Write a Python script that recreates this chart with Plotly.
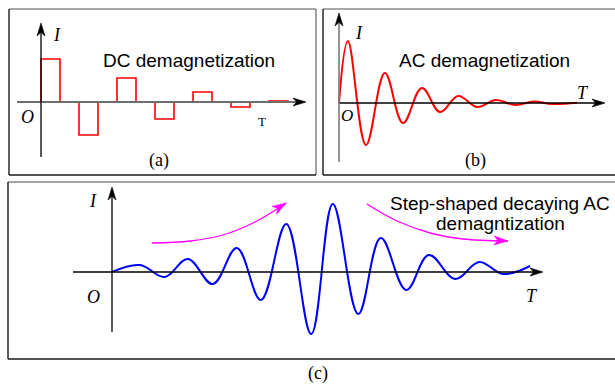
import math
import plotly.graph_objects as go

W, H = 615, 384

# ---------------- data ----------------
# (a) DC demagnetization: step index and pulse height (a.u.)
dc_step = [0, 1, 2, 3, 4, 5, 6]
dc_current = [4.3, -3.3, 2.4, -1.7, 1.0, -0.5, 0.1]

# (b) AC demagnetization: time (periods) and current (a.u.) at start / extrema / end
ac_time = [0, 0.24, 0.73, 1.24, 1.73, 2.24, 2.73, 3.22, 3.73, 4.24, 4.76, 5.27, 5.76, 6.43]
ac_current = [0, 6.2, -4.2, 3.0, -2.0, 1.5, -0.9, 0.7, -0.4, 0.3, -0.2, 0.15, -0.1, 0.03]

# (c) Step-shaped decaying AC demagnetization: time (periods) and current (a.u.)
st_time = [0, 0.58, 1.10, 1.58, 2.10, 2.60, 3.10, 3.63, 4.15, 4.60, 5.13, 5.60,
           6.13, 6.60, 7.15, 7.65, 8.15, 8.71]
st_current = [0, 0.7, -0.5, 1.3, -1.2, 2.4, -2.8, 4.8, -6.2, 6.8, -4.2, 3.4,
              -1.8, 1.7, -0.7, 1.0, -0.2, 0.6]

# (c) trend arrows (rising then falling envelope)
rise_time = [0.83, 1.63, 2.31, 2.98, 3.63]
rise_level = [2.9, 3.1, 3.7, 5.0, 6.9]
fall_time = [5.31, 5.94, 6.63, 7.31, 8.25]
fall_level = [6.8, 5.1, 3.9, 3.3, 3.1]

# ---------------- geometry (pixels) ----------------
PANELS = {
    "a": dict(dom=(9, 9, 316, 175), origin=(41, 102), sx=38.0, sy=10.0),
    "b": dict(dom=(323, 9, 615, 175), origin=(339, 103), sx=37.0, sy=10.0),
    "c": dict(dom=(8, 182, 615, 359), origin=(112, 272), sx=48.0, sy=10.0),
}
AX_ID = {"a": ("x", "y"), "b": ("x2", "y2"), "c": ("x3", "y3")}

SERIF = "Liberation Serif"
SANS = "Liberation Sans"
RED = "#ff0000"
BLUE = "#0000ff"
MAGENTA = "#ff00ff"


def px(x):
    return x / W


def py(y):
    return 1 - y / H


def to_pix(panel, t, v):
    p = PANELS[panel]
    ox, oy = p["origin"]
    return ox + t * p["sx"], oy - v * p["sy"]


fig = go.Figure()

# (a) outlined pulses
fig.add_trace(go.Bar(
    x=[s + 0.25 for s in dc_step], y=dc_current, width=0.5, base=0,
    marker=dict(color="rgba(0,0,0,0)", line=dict(color=RED, width=1.6)),
    xaxis="x", yaxis="y", showlegend=False, hoverinfo="skip"))

# (b) damped oscillation
fig.add_trace(go.Scatter(
    x=ac_time, y=ac_current, mode="lines",
    line=dict(color=RED, width=2, shape="spline", smoothing=1.1),
    xaxis="x2", yaxis="y2", showlegend=False, hoverinfo="skip"))

# (c) step-shaped oscillation
fig.add_trace(go.Scatter(
    x=st_time, y=st_current, mode="lines",
    line=dict(color=BLUE, width=2, shape="spline", smoothing=1.1),
    xaxis="x3", yaxis="y3", showlegend=False, hoverinfo="skip"))

# (c) trend arrows
for tt, ll in ((rise_time, rise_level), (fall_time, fall_level)):
    fig.add_trace(go.Scatter(
        x=tt, y=ll, mode="lines",
        line=dict(color=MAGENTA, width=1.3, shape="spline", smoothing=1.0),
        xaxis="x3", yaxis="y3", showlegend=False, hoverinfo="skip"))

layout_axes = {}
for k, p in PANELS.items():
    x0, y0, x1, y1 = p["dom"]
    ox, oy = p["origin"]
    xa, ya = AX_ID[k]
    xname = "xaxis" if xa == "x" else "xaxis" + xa[1:]
    yname = "yaxis" if ya == "y" else "yaxis" + ya[1:]
    layout_axes[xname] = dict(domain=[px(x0), px(x1)],
                              range=[(x0 - ox) / p["sx"], (x1 - ox) / p["sx"]],
                              visible=False, fixedrange=True, anchor=ya)
    layout_axes[yname] = dict(domain=[py(y1), py(y0)],
                              range=[(oy - y1) / p["sy"], (oy - y0) / p["sy"]],
                              visible=False, fixedrange=True, anchor=xa)

shapes = []


def line(xa, ya, xb, yb, color, width, layer="above"):
    shapes.append(dict(type="line", xref="paper", yref="paper",
                       x0=px(xa), y0=py(ya), x1=px(xb), y1=py(yb),
                       line=dict(color=color, width=width), layer=layer))


def head(tx, ty, ang, L, Wd, color, notch=0.28):
    a = math.radians(ang)
    ux, uy = math.cos(a), math.sin(a)
    nx, ny = -uy, ux
    pts = [(0, 0),
           (-L * ux + Wd / 2 * nx, -L * uy + Wd / 2 * ny),
           (-(1 - notch) * L * ux, -(1 - notch) * L * uy),
           (-L * ux - Wd / 2 * nx, -L * uy - Wd / 2 * ny)]
    path = "M " + " L ".join(f"{x:.2f},{y:.2f}" for x, y in pts) + " Z"
    shapes.append(dict(type="path", xref="paper", yref="paper",
                       xsizemode="pixel", ysizemode="pixel",
                       xanchor=px(tx), yanchor=py(ty), path=path,
                       fillcolor=color, line=dict(color=color, width=0.6),
                       layer="above"))


# frames: top/right grey, left/bottom black
FR_G = "#8a8a8a"
FR_K = "#1a1a1a"
frames = [(9, 9, 316, 175), (323, 9, 640, 175), (8, 182, 640, 359)]
for (l, t, r, b) in frames:
    line(l, t, min(r, W), t, FR_G, 1.6)
    if r <= W:
        line(r, t, r, b, FR_G, 1.6)
    line(l, t, l, b, FR_K, 1.4)
    line(l, b, min(r, W), b, FR_K, 1.6)

# axes with arrowheads
line(17, 102, 300, 102, "#6e6e6e", 2.0)
head(306, 102, 0, 13, 8, "#000000")
line(41, 157, 41, 30, "#000000", 1.3)
head(41, 23, 90, 13, 8, "#000000")

line(339, 103, 598, 103, "#000000", 1.3)
head(605, 103, 0, 13, 8, "#000000")
line(339, 162, 339, 20, "#7a7a7a", 1.6)
head(339, 13, 90, 13, 8, "#000000")

line(73, 272, 536, 272, "#000000", 1.3)
head(543, 272, 0, 13, 8, "#000000")
line(112, 332, 112, 194, "#000000", 1.3)
head(112, 187, 90, 13, 8, "#000000")

# magenta arrowheads oriented along the last segment of each trend arrow
for tt, ll in ((rise_time, rise_level), (fall_time, fall_level)):
    xa_, ya_ = to_pix("c", tt[-2], ll[-2])
    xb_, yb_ = to_pix("c", tt[-1], ll[-1])
    ang = math.degrees(math.atan2(-(yb_ - ya_), xb_ - xa_))
    head(xb_, yb_, ang, 14, 9, MAGENTA)

# ---------------- text ----------------
annotations = []


def text(s, x, y, size, family, color="#000000"):
    annotations.append(dict(text=s, x=px(x), y=py(y), xref="paper", yref="paper",
                            showarrow=False, xanchor="center", yanchor="middle",
                            font=dict(size=size, family=family, color=color)))


text("<i>I</i>", 57, 35, 18, SERIF)
text("<i>O</i>", 27, 117, 18, SERIF)
text("T", 262, 122, 13, SERIF)
text("DC demagnetization", 189, 61, 19, SANS)
text("(a)", 159, 161, 18, SERIF)

text("<i>I</i>", 359, 33, 18, SERIF)
text("<i>O</i>", 347, 116, 17, SERIF)
text("<i>T</i>", 583, 93, 18, SERIF)
text("AC demagnetization", 484, 60, 19, SANS)
text("(b)", 476, 161, 18, SERIF)

text("<i>I</i>", 93, 201, 18, SERIF)
text("<i>O</i>", 93, 297, 18, SERIF)
text("<i>T</i>", 532, 296, 18, SERIF)
text("Step-shaped decaying AC", 500, 203, 19, SANS)
text("demagntization", 500, 223, 19, SANS)
text("(c)", 318, 373, 18, SERIF)

fig.update_layout(
    width=W, height=H, margin=dict(l=0, r=0, t=0, b=0, pad=0),
    paper_bgcolor="white", plot_bgcolor="white",
    shapes=shapes, annotations=annotations, showlegend=False,
    barmode="overlay", **layout_axes)

fig.write_html("out.html", config={"displayModeBar": False},
               post_script="document.body.style.margin='0px';document.body.style.padding='0px';")
